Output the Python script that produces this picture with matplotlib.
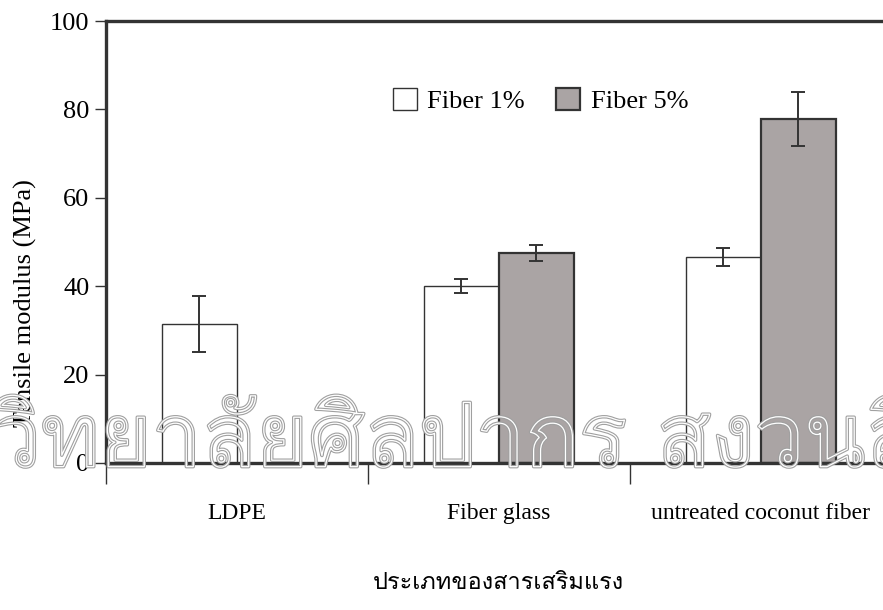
import matplotlib
matplotlib.use("Agg")
import matplotlib.pyplot as plt
import matplotlib.patheffects as pe
from matplotlib import font_manager as fm
from matplotlib.ft2font import FT2Font
import numpy as np

# data
categories = ["LDPE", "Fiber glass", "untreated coconut fiber"]
fiber1 = [31.5, 40.0, 46.6]
fiber1_err = [6.3, 1.6, 2.1]
fiber5 = [np.nan, 47.5, 77.8]
fiber5_err = [np.nan, 1.8, 6.1]
series_labels = ["Fiber 1%", "Fiber 5%"]
xlabel = "ประเภทของสารเสริมแรง"
ylabel = "Tensile modulus (MPa)"
watermark = "วิทยาลัยศิลปากร สงวนลิขสิทธิ์"
yticks = [0, 20, 40, 60, 80, 100]


def find_thai_font():
    for f in fm.fontManager.ttflist:
        try:
            if ord("ก") in FT2Font(f.fname).get_charmap():
                return f.name
        except Exception:
            pass
    return None


thai = find_thai_font()
serif = "Liberation Serif"
thai_family = [thai, serif] if thai else [serif, "DejaVu Sans"]

plt.rcParams["font.family"] = serif
dark = "#333333"
grey = "#aaa4a4"

fig = plt.figure(figsize=(8.83, 6.10), dpi=100)
ax = fig.add_axes([0.12, 0.241, 0.89, 0.7245])

x = np.arange(len(categories))
w = 0.286
ax.bar(x - w / 2, fiber1, w, color="white", edgecolor=dark, linewidth=1.0,
       label=series_labels[0], zorder=2)
ax.bar(x + w / 2, fiber5, w, color=grey, edgecolor=dark, linewidth=1.6,
       label=series_labels[1], zorder=2)
ax.errorbar(x - w / 2, fiber1, yerr=fiber1_err, fmt="none", ecolor=dark,
            elinewidth=1.4, capsize=5, capthick=1.4, zorder=3)
ax.errorbar(x + w / 2, fiber5, yerr=fiber5_err, fmt="none", ecolor=dark,
            elinewidth=1.4, capsize=5, capthick=1.4, zorder=3)

ax.set_xlim(-0.5, len(categories) - 0.5)
ax.set_ylim(0, 100)
ax.set_yticks(yticks)
ax.set_xticks([-0.5, 0.5, 1.5])
ax.set_xticklabels([])
ax.set_xticks(x, minor=True)
ax.set_xticklabels(categories, minor=True, fontsize=17)
ax.tick_params(axis="x", which="minor", length=0, pad=29)
ax.tick_params(axis="x", which="major", length=15, width=1, color=dark, direction="out")
ax.tick_params(axis="y", length=8, width=1, color=dark, labelsize=19, pad=4)

for s in ["left", "top", "bottom"]:
    ax.spines[s].set_linewidth(2.4)
    ax.spines[s].set_color(dark)
ax.spines["right"].set_visible(False)

ax.set_ylabel(ylabel, fontsize=19)
ax.yaxis.set_label_coords(-0.088, 0.362)
ax.set_xlabel(xlabel, fontsize=17, family=thai_family, labelpad=34)

ax.legend(loc="center", bbox_to_anchor=(0.553, 0.82), ncol=2, frameon=False,
          fontsize=19, handlelength=0.9, handleheight=0.9, handletextpad=0.4,
          columnspacing=1.2)

# hollow watermark: only the outline is drawn, the fill stays transparent
fig.text(-0.01, 0.235, watermark, fontsize=64, family=thai_family, color="none",
         ha="left", va="baseline", zorder=10,
         path_effects=[pe.Stroke(linewidth=2.5, foreground="#a0a0a0"),
                       pe.Stroke(linewidth=0.9, foreground="white")])

fig.savefig("out.png", dpi=100)
